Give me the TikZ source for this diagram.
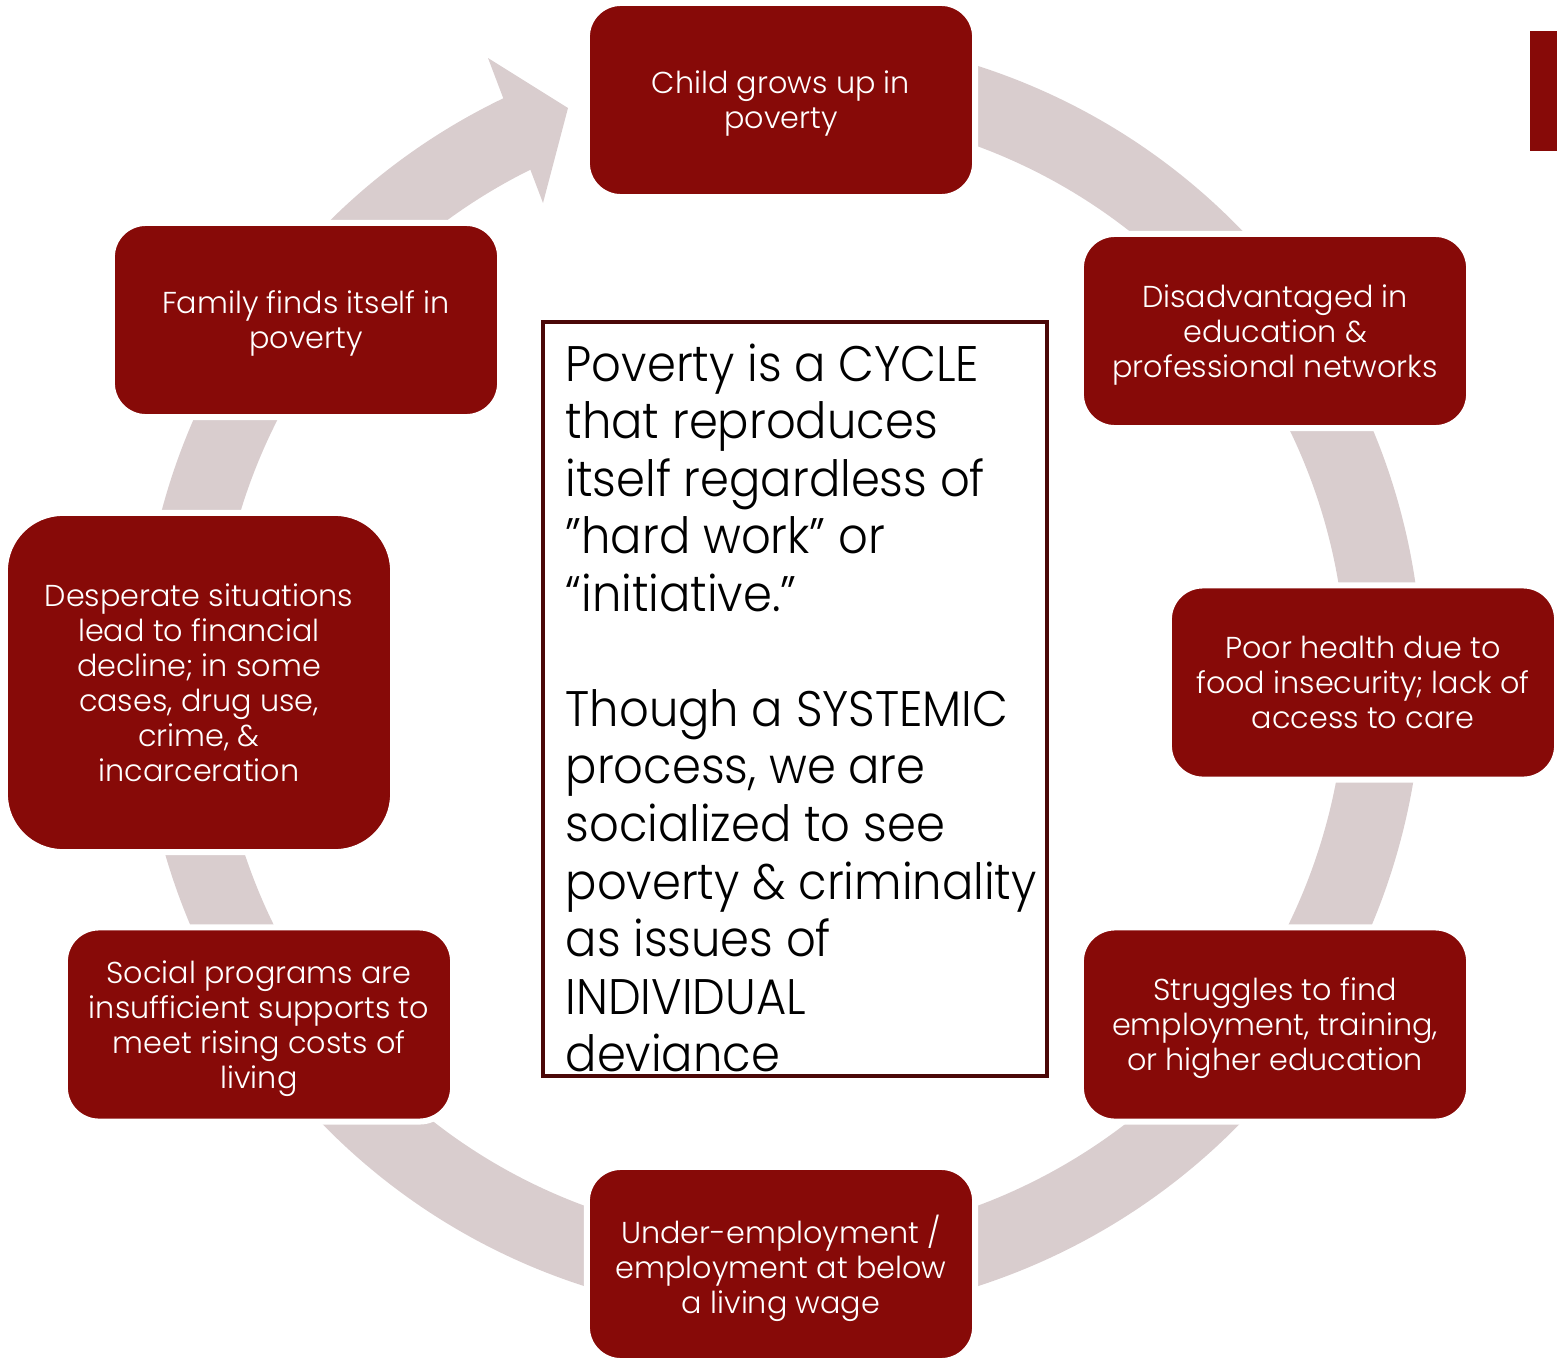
\documentclass[tikz,border=0pt]{standalone}
\usepackage{fontspec}
\setmainfont{Poppins}[UprightFont=* Light]
\newfontfamily\summaryfont{Poppins}[UprightFont=* Light, FakeStretch=0.93]
\definecolor{boxred}{HTML}{870A08}
\definecolor{ringgray}{HTML}{D9CDCE}
\definecolor{framered}{HTML}{4B0707}

\begin{document}
\begin{tikzpicture}[x=0.01cm,y=0.01cm,
    cyclebox/.style={rectangle, rounded corners=0.34cm, fill=boxred, draw=white,
      line width=0.06cm, text=white, align=center, minimum width=3.88cm,
      minimum height=1.94cm, inner sep=0pt, font=\fontsize{8.6}{9.95}\selectfont,
      text depth=0pt},
    ringarc/.style={draw=ringgray, line width=0.76cm},
    summarytext/.style={anchor=north west, align=left, inner sep=0pt,
      font=\summaryfont\fontsize{14.2}{16.36}\selectfont},
    summaryframe/.style={draw=framered, line width=0.04cm, minimum width=5.04cm,
      minimum height=7.54cm, inner sep=0pt}]
  \useasboundingbox (0,0) rectangle (1557,-1357);

  % the cycle ring with its arrow head
  \coordinate (c) at (781,-676);
  \draw[ringarc] (c) ++(75:603) arc[start angle=75, end angle=-244.5, radius=603];
  \fill[ringgray] (488,-58) -- (568,-108) -- (543,-203) -- cycle;

  % steps of the cycle
  \node[cyclebox] (child)     at (781,-100)    {Child grows up in\\poverty};
  \node[cyclebox] (disadv)    at (1275,-331)   {Disadvantaged in\\education \&\\professional networks};
  \node[cyclebox] (health)    at (1363,-682.5) {Poor health due to\\food insecurity; lack of\\access to care};
  \node[cyclebox] (struggle)  at (1275,-1024.5) {Struggles to find\\employment, training,\\or higher education};
  \node[cyclebox] (underemp)  at (781,-1264)   {Under-employment /\\employment at below\\a living wage};
  \node[cyclebox] (social)    at (259,-1024.5) {Social programs are\\insufficient supports to\\meet rising costs of\\living};
  \node[cyclebox, minimum height=3.39cm, rounded corners=0.58cm] (desperate) at (199,-682.5)
    {Desperate situations\\lead to financial\\decline; in some\\cases, drug use,\\crime, \&\\incarceration};
  \node[cyclebox] (family)    at (306,-320)    {Family finds itself in\\poverty};

  % middle text
  \node[summarytext] (summarytxt) at (565,-343)
    {Poverty is a CYCLE\\that reproduces\\itself regardless of\\”hard work” or\\“initiative.”\\~\\Though a SYSTEMIC\\process, we are\\socialized to see\\poverty \& criminality\\as issues of\\INDIVIDUAL\\deviance};
  \node[summaryframe] (summary) at (795,-699) {};

  \fill[boxred] (1530,-31) rectangle (1557,-151);
\end{tikzpicture}
\end{document}
